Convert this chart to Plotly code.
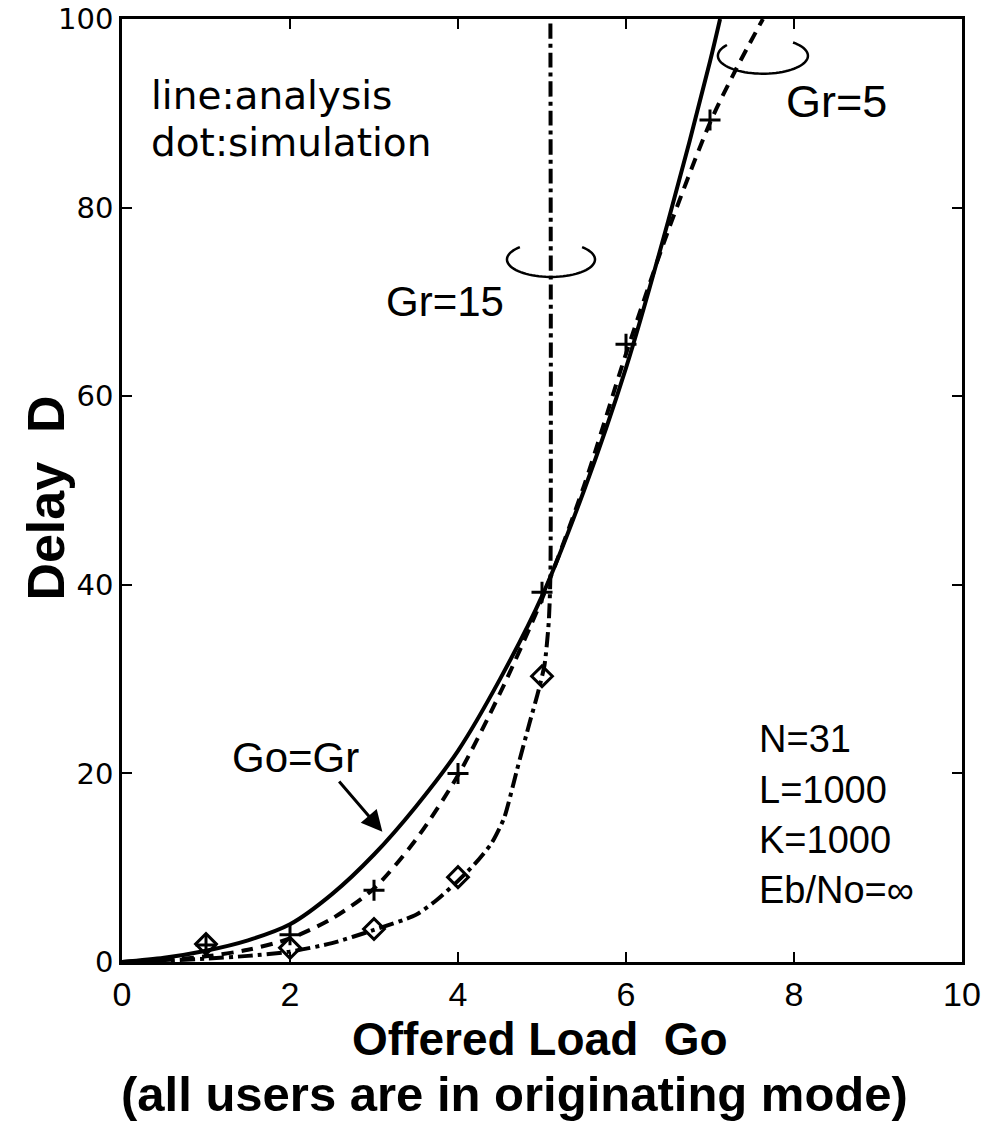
import numpy as np
import plotly.graph_objects as go

# ---- data ----
# Go=Gr (analysis, solid)
x_gogr = [0, 0.5, 1, 1.5, 2, 2.5, 3, 3.5, 4, 4.5, 5, 5.5, 6, 6.5, 7, 7.12]
y_gogr = [0, 0.45, 1.2, 2.3, 4.0, 7.2, 11.4, 16.5, 22.4, 30.0, 38.8, 50.0, 63, 78.5, 95.5, 100]

# Gr=5 (analysis, dashed)
x_gr5 = [0, 0.5, 1, 1.5, 2, 2.5, 3, 3.5, 4, 4.5, 5, 5.5, 6, 6.5, 7, 7.3, 7.63]
y_gr5 = [0, 0.2, 0.6, 1.3, 2.5, 4.6, 7.8, 13.0, 19.8, 28.5, 38.5, 50.5, 64.5, 77.5, 89, 94.5, 100]

# Gr=15 (analysis, dash-dot)
x_gr15 = [0, 0.5, 1, 1.5, 2, 2.5, 3, 3.5, 3.75, 4.0, 4.2, 4.4, 4.55, 4.7, 4.85, 4.95, 5.03, 5.08, 5.1, 5.1]
y_gr15 = [0, 0.15, 0.35, 0.65, 1.1, 2.0, 3.4, 5.0, 6.6, 8.6, 10.4, 12.6, 15.3, 20.3, 25.3, 28.5, 31.5, 36, 41, 100]

# simulation points
x_sim5 = [1, 2, 3, 4, 5, 6, 7]
y_sim5 = [1.8, 2.9, 7.6, 20.0, 39.2, 65.5, 89.3]
x_sim15 = [1, 2, 3, 4, 5]
y_sim15 = [1.9, 1.5, 3.5, 9.0, 30.3]

x_ticks = [0, 2, 4, 6, 8, 10]
y_ticks = [0, 20, 40, 60, 80, 100]

params = ["N=31", "L=1000", "K=1000", "Eb/No=∞"]

TXT_FONT = "Liberation Sans, Arial, Helvetica, sans-serif"
WIDE = "DejaVu Sans, Verdana, sans-serif"
NARROW = "Liberation Sans Narrow, Arial Narrow, Liberation Sans, Arial, sans-serif"

fig = go.Figure()

fig.add_trace(go.Scatter(x=x_gogr, y=y_gogr, mode="lines",
                         line=dict(color="black", width=4, shape="spline", smoothing=0.8),
                         showlegend=False))
fig.add_trace(go.Scatter(x=x_gr5, y=y_gr5, mode="lines",
                         line=dict(color="black", width=4, dash="12px,8px",
                                   shape="spline", smoothing=0.8),
                         showlegend=False))
fig.add_trace(go.Scatter(x=x_gr15, y=y_gr15, mode="lines",
                         line=dict(color="black", width=4, dash="15px,5px,4px,5px",
                                   shape="spline", smoothing=0.6),
                         showlegend=False))
fig.add_trace(go.Scatter(x=x_sim5, y=y_sim5, mode="markers",
                         marker=dict(symbol="cross-thin", size=15, color="black",
                                     line=dict(color="black", width=3)), showlegend=False))
fig.add_trace(go.Scatter(x=x_sim15, y=y_sim15, mode="markers",
                         marker=dict(symbol="diamond-open", size=16, color="black",
                                     line=dict(color="black", width=3)), showlegend=False))

# open ellipses (arcs) marking the Gr curves
def arc_path(cx, cy, rx, ry, t0, t1):
    t = np.radians(np.linspace(t0, t1, 60))
    xs = cx + rx * np.cos(t)
    ys = cy + ry * np.sin(t)
    return "M " + " L ".join(f"{a:.4f},{b:.4f}" for a, b in zip(xs, ys))

fig.add_shape(type="path", xref="x", yref="y",
              path=arc_path(5.107, 74.5, 0.524, 1.85, 135, 405),
              line=dict(color="black", width=2.5))
fig.add_shape(type="path", xref="x", yref="y",
              path=arc_path(7.63, 96.1, 0.536, 1.9, 143, 408),
              line=dict(color="black", width=2.5))

def afont(s, fam=TXT_FONT):
    return dict(family=fam, size=s, color="black")

fig.add_annotation(x=0.33, y=91.9, text="line:analysis", showarrow=False, borderpad=0,
                   xanchor="left", yanchor="middle", font=afont(39, WIDE))
fig.add_annotation(x=0.33, y=86.9, text="dot:simulation", showarrow=False, borderpad=0,
                   xanchor="left", yanchor="middle", font=afont(39, WIDE))
fig.add_annotation(x=3.85, y=70.0, text="Gr=15", showarrow=False,
                   xanchor="center", yanchor="middle", font=afont(42))
fig.add_annotation(x=8.5, y=91.2, text="Gr=5", showarrow=False,
                   xanchor="center", yanchor="middle", font=afont(45))
fig.add_annotation(x=2.06, y=21.7, text="Go=Gr", showarrow=False,
                   xanchor="center", yanchor="middle", font=afont(42))
fig.add_annotation(x=3.1, y=13.8, ax=2.57, ay=19.3, axref="x", ayref="y",
                   text="", showarrow=True, arrowhead=2, arrowsize=1.4,
                   arrowwidth=3, arrowcolor="black")
for txt, yy in zip(params, [23.7, 18.2, 12.9, 7.6]):
    fig.add_annotation(x=7.56, y=yy, text=txt, showarrow=False,
                       xanchor="left", yanchor="middle", font=afont(38))

# axis titles
fig.add_annotation(xref="paper", yref="paper", x=0.4976, y=-0.082,
                   text="<b>Offered Load  Go</b>", showarrow=False,
                   xanchor="center", yanchor="middle",
                   font=dict(family=NARROW, size=46, color="black"))
fig.add_annotation(xref="paper", yref="paper", x=0.467, y=-0.14,
                   text="<b>(all users are in originating mode)</b>", showarrow=False,
                   xanchor="center", yanchor="middle",
                   font=dict(family=NARROW, size=49, color="black"))
fig.add_annotation(xref="paper", yref="paper", x=-0.091, y=0.492,
                   text="<b>Delay  D</b>", showarrow=False, textangle=-90,
                   xanchor="center", yanchor="middle",
                   font=dict(family=NARROW, size=52, color="black"))

fig.update_xaxes(range=[0, 10], tickvals=x_ticks, ticktext=[str(v) for v in x_ticks],
                 showgrid=False, zeroline=False, showline=True, linecolor="black",
                 linewidth=2.5, mirror="ticks", ticks="inside", ticklen=10, tickwidth=2,
                 tickcolor="black", ticklabeloverflow="allow", automargin=False,
                 tickfont=dict(family=NARROW, size=34, color="black"))
fig.update_yaxes(range=[0, 100], tickvals=y_ticks, ticktext=[str(v) for v in y_ticks],
                 showgrid=False, zeroline=False, showline=True, linecolor="black",
                 linewidth=2.5, mirror="ticks", ticks="inside", ticklen=10, tickwidth=2,
                 tickcolor="black", ticklabeloverflow="allow", automargin=False,
                 tickfont=dict(family=WIDE, size=29, color="black"))

fig.update_layout(width=993, height=1126,
                  margin=dict(l=122, r=31, t=19, b=164),
                  paper_bgcolor="white", plot_bgcolor="white",
                  showlegend=False)

fig.write_html("out.html")
